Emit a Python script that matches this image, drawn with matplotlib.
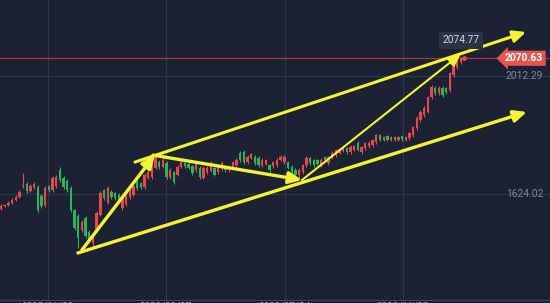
import matplotlib
matplotlib.use("Agg")
import matplotlib.pyplot as plt
import matplotlib.transforms as mtrans
import numpy as np

# ---------------- data ----------------
opens = [1575,1585,1588,1594,1604,1614,1650,1657,1634,1647,1647,1618,1588,1650,1637,1650,1703,1677,1667,1644,
         1571,1552,1506,1545,1499,1463,1506,1555,1637,1594,1631,1627,1621,1578,1591,1614,1621,1664,1660,1647,
         1677,1680,1710,1729,1713,1726,1680,1696,1687,1713,1726,1723,1716,1703,1710,1677,1696,1700,1710,1696,
         1706,1716,1703,1713,1719,1759,1762,1729,1743,1746,1743,1719,1723,1719,1716,1719,1736,1729,1729,1713,
         1703,1687,1696,1719,1743,1736,1736,1719,1746,1726,1743,1752,1759,1766,1775,1762,1769,1792,1762,1775,
         1782,1785,1795,1818,1802,1815,1802,1812,1802,1815,1802,1808,1818,1841,1868,1884,1894,1943,1973,1956,
         1973,1973,1966,2016,2042,2058]
closes = [1585,1588,1594,1604,1614,1631,1654,1634,1650,1657,1571,1585,1644,1637,1677,1680,1670,1647,1637,1571,
          1512,1479,1532,1486,1473,1489,1562,1627,1611,1644,1614,1611,1604,1611,1624,1637,1650,1644,1647,1687,
          1696,1716,1746,1713,1736,1680,1703,1664,1713,1729,1716,1710,1693,1723,1680,1710,1710,1726,1687,1716,
          1726,1703,1713,1729,1736,1736,1729,1746,1756,1726,1719,1736,1736,1703,1729,1736,1746,1746,1710,1696,
          1687,1703,1719,1743,1726,1719,1723,1736,1736,1746,1759,1769,1772,1775,1762,1779,1782,1769,1779,1792,
          1792,1802,1818,1802,1812,1802,1812,1802,1812,1805,1812,1825,1844,1874,1894,1907,1943,1976,1956,1973,
          1950,1960,2022,2042,2065,2070.63]
highs = [1591,1592,1600,1610,1620,1636,1693,1662,1656,1662,1652,1625,1650,1655,1684,1686,1713,1683,1672,1650,
         1576,1558,1540,1552,1505,1495,1568,1633,1642,1650,1636,1632,1626,1616,1630,1643,1655,1670,1664,1693,
         1701,1722,1756,1735,1742,1732,1708,1700,1718,1735,1731,1728,1720,1728,1716,1715,1715,1731,1714,1721,
         1731,1721,1718,1734,1741,1764,1769,1751,1760,1751,1748,1741,1740,1724,1734,1741,1751,1751,1734,1718,
         1708,1708,1724,1748,1747,1740,1740,1741,1750,1750,1764,1773,1777,1779,1779,1784,1786,1797,1783,1796,
         1797,1806,1822,1822,1816,1819,1816,1816,1816,1819,1816,1829,1848,1880,1899,1912,1948,1981,1978,1978,
         1978,1977,2027,2047,2069,2074.77]
lows = [1570,1580,1584,1590,1600,1610,1645,1628,1630,1642,1565,1578,1582,1632,1632,1645,1665,1642,1632,1565,
        1505,1446,1500,1480,1465,1453,1500,1550,1605,1590,1609,1605,1598,1572,1586,1609,1616,1638,1642,1642,
        1672,1675,1705,1707,1708,1675,1675,1658,1682,1708,1711,1705,1688,1698,1675,1672,1690,1695,1682,1690,
        1700,1698,1698,1708,1714,1730,1724,1724,1738,1720,1714,1714,1718,1698,1711,1714,1731,1724,1705,1690,
        1680,1673,1690,1714,1720,1713,1718,1714,1730,1721,1738,1747,1754,1761,1757,1757,1764,1764,1757,1770,
        1777,1780,1790,1797,1797,1797,1797,1797,1797,1800,1797,1803,1813,1836,1862,1879,1889,1938,1950,1950,
        1944,1954,1960,2010,2036,2053]

price_labels = [2012.29, 1624.02]
last_price = 2070.63
high_price = 2074.77
date_labels = ["2022/11/28", "2023/03/27", "2023/07/24", "2023/11/20"]
date_positions = [12.8, 44.8, 77.2, 109.2]

# trend lines (start x, start price, end x, end price, linewidth)
trend_lines = [
    (36.4, 1729, 142.7, 2157, 2.2),   # upper channel
    (20.9, 1430, 142.9, 1894, 2.4),   # lower channel
    (22.0, 1440, 41.8, 1752, 2.4),    # first up leg
    (41.3, 1752, 81.8, 1670, 2.4),    # pullback
    (81.8, 1670, 125.0, 2085, 1.5),   # final leg
]

# ---------------- style ----------------
BG = "#1c2233"
RED = "#e5484d"
GREEN = "#2db35d"
YELLOW = "#f4f235"
GRID = "#2e3648"
TXT = "#7f8798"

plt.rcParams['font.family'] = ['Roboto', 'DejaVu Sans']

fig = plt.figure(figsize=(5.5, 3.03), dpi=100)
fig.patch.set_facecolor(BG)
ax = fig.add_axes([0, 0, 1, 1])
ax.set_facecolor(BG)
ax.set_xlim(-0.27, 149.2)
ax.set_ylim(1265.4, 2262.3)
for s in ax.spines.values():
    s.set_visible(False)
ax.set_xticks([])
ax.set_yticks([])

# grid
for xp in date_positions:
    ax.axvline(xp, color=GRID, lw=0.8, zorder=0)
for yp in price_labels:
    ax.axhline(yp, color=GRID, lw=0.8, zorder=0)

# bottom axis line and (cropped) date labels
ax.plot([0, 1], [1 - 299.5 / 303, 1 - 299.5 / 303], transform=ax.transAxes, color="#3a4256", lw=0.8)
for xp, lab in zip(date_positions, date_labels):
    ax.text(xp, 1 - 301.5 / 303, lab, transform=mtrans.blended_transform_factory(ax.transData, ax.transAxes),
            ha='center', va='top', fontsize=7, color="#9aa1af")

# candles
x = np.arange(len(opens))
o = np.array(opens, float); c = np.array(closes, float)
h = np.array(highs, float); l = np.array(lows, float)
up = c >= o
cols = np.where(up, RED, GREEN)
ax.vlines(x, l, h, colors=cols, lw=0.8, zorder=2)
bottom = np.minimum(o, c)
height = np.maximum(np.abs(c - o), 2.5)
ax.bar(x, height, bottom=bottom, width=0.64, color=cols, edgecolor='none', zorder=3)

# last price line and marker
ax.axhline(last_price, color="#a3353b", lw=0.9, zorder=1)
ax.plot([x[-1] + 0.7], [last_price], marker='o', ms=2.5, color=RED, zorder=4)

# trend arrows
for x0, y0, x1, y1, lw in trend_lines:
    ax.annotate("", xy=(x1, y1), xytext=(x0, y0),
                arrowprops=dict(arrowstyle="-|>,head_length=0.7,head_width=0.32", color=YELLOW,
                                lw=lw, shrinkA=0, shrinkB=0, mutation_scale=11),
                zorder=5)

# price labels on right
tr = mtrans.blended_transform_factory(ax.transAxes, ax.transData)
for yp in price_labels:
    ax.text(543 / 550, yp, f"{yp:.2f}", transform=tr, ha='right', va='center', fontsize=7.4, color=TXT, zorder=6)

ax.text(524 / 550, last_price, f"{last_price:.2f}", transform=tr, ha='center', va='center', fontsize=7.4,
        color='white', fontweight='bold', zorder=7,
        bbox=dict(boxstyle="larrow,pad=0.25", facecolor="#e4564e", edgecolor='none'))

ax.text(125.0, high_price + 55, f"{high_price:.2f}", ha='center', va='center', fontsize=7.3,
        color="#d3d7df", zorder=7,
        bbox=dict(boxstyle="square,pad=0.35", facecolor="#2b3346", edgecolor='none'))

fig.savefig("out.png", dpi=100, facecolor=BG)
